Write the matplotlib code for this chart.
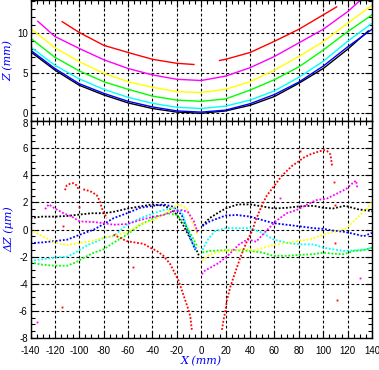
import numpy as np
import matplotlib.pyplot as plt
import matplotlib.transforms as mtransforms
from matplotlib.ticker import MultipleLocator

plt.rcParams['axes.unicode_minus'] = False
plt.rcParams['font.family'] = ['Liberation Sans', 'DejaVu Sans']

nan = np.nan

# Top panel: Z profiles (mm)
top_x = [-140, -120, -100, -80, -60, -40, -20, 0, 20, 40, 60, 80, 100, 120, 137]
z_black = [7.7, 5.4, 3.5, 2.3, 1.3, 0.6, 0.15, 0.0, 0.3, 1.0, 2.1, 3.75, 5.6, 8.0, 10.3]
top_x2 = [-140, -120, -100, -80, -60, -40, -20, 0, 20, 40, 60, 80, 100, 120, 140]
z_blue = [7.9, 5.6, 3.7, 2.5, 1.5, 0.8, 0.3, 0.15, 0.4, 1.2, 2.35, 3.9, 5.9, 8.3, 10.5]
z_cyan = [8.3, 6.0, 4.3, 3.0, 2.0, 1.25, 0.75, 0.6, 0.9, 1.65, 2.8, 4.5, 6.5, 9.0, 11.25]
z_green = [9.4, 7.0, 5.3, 3.95, 3.0, 2.15, 1.65, 1.5, 1.8, 2.9, 4.2, 5.8, 7.9, 10.2, 12.3]
z_yellow = [10.6, 8.2, 6.45, 5.0, 3.95, 3.25, 2.7, 2.6, 3.0, 3.95, 5.4, 7.1, 8.95, 11.25, 13.5]
mag_x = [-134, -120, -100, -80, -60, -40, -20, 0, 20, 40, 60, 80, 100, 120, 131]
z_magenta = [11.5, 9.6, 8.1, 6.7, 5.6, 4.8, 4.25, 4.1, 4.65, 5.7, 7.1, 8.8, 10.5, 12.7, 14.2]
red_x = [-114, -100, -80, -60, -40, -20, -6, nan, 15, 20, 40, 60, 80, 100, 111]
z_red = [11.45, 10.1, 8.5, 7.6, 6.75, 6.25, 6.1, nan, 6.6, 6.75, 7.6, 9.0, 10.5, 12.3, 13.3]

# Bottom panel: residuals dZ (um)
dk_x = [-140, -130, -120, -110, -100, -90, -80, -72, -60, -50, -40, -30, -25, -20, -15, -10, -5, -2,
        nan, 1, 7, 15, 20, 30, 40, 50, 60, 70, 80, 92, 100, 108, 118, 128, 136, 140]
dk_y = [0.85, 0.95, 0.95, 1.0, 1.1, 1.2, 1.2, 1.3, 1.55, 1.7, 1.85, 1.75, 1.5, 1.1, 0.35, -0.5, -1.3, -1.9,
        nan, 0.3, 0.85, 1.3, 1.55, 1.85, 1.85, 1.7, 1.55, 1.6, 1.7, 1.75, 1.6, 1.55, 1.75, 1.5, 1.4, 1.35]

db_x = [-140, -130, -120, -110, -100, -88, -80, -72, -61, -50, -39, -31, -23, -16, -9, -5,
        nan, 1, 7, 20, 29, 40, 50, 59, 70, 81, 92, 100, 108, 118, 128, 133, 140]
db_y = [-1.0, -0.95, -0.85, -0.75, -0.4, 0.0, 0.4, 0.83, 1.2, 1.6, 1.75, 1.85, 1.68, 1.07, -0.6, -1.5,
        nan, 0.25, 0.6, 1.03, 1.07, 0.95, 0.7, 0.47, 0.35, 0.23, 0.1, 0.05, -0.08, -0.18, -0.38, -0.5, -0.25]

dc_x = [-140, -130, -120, -110, -103, -99, -92, -85, -80, -72, -61, -50, -39, -31, -23, -16, -8, -4,
        nan, 1, 5, 11, 20, 29, 40, 50, 59, 70, 81, 92, 100, 108, 117, 128, 136, 140]
dc_y = [-2.3, -2.2, -2.07, -2.0, -1.7, -1.46, -1.1, -0.86, -0.6, -0.5, 0.35, 0.83, 1.2, 1.43, 1.6, 1.3, -0.8, -1.6,
        nan, -1.5, -0.8, -0.13, 0.1, 0.1, 0.1, -0.25, -0.73, -0.98, -1.1, -1.1, -1.34, -1.46, -1.58, -1.53, -1.46, -1.34]

dg_x = [-140, -130, -120, -110, -103, -96, -88, -80, -72, -61, -50, -39, -28, -20, -13, -7, -3,
        nan, 1, 7, 18, 29, 40, 50, 59, 70, 81, 92, 100, 108, 117, 125, 133, 140]
dg_y = [-2.43, -2.6, -2.67, -2.67, -2.43, -2.07, -1.7, -1.46, -0.98, -0.38, 0.35, 0.83, 1.2, 1.07, 0.35, -0.6, -1.3,
        nan, -1.7, -1.58, -1.53, -1.53, -1.58, -1.7, -1.94, -1.94, -1.87, -1.82, -1.7, -1.78, -1.82, -1.58, -1.53, -1.34]

dy_x = [-140, -130, -120, -110, -100, -90, -80, -70, -59, -51, -39, -28, -22, -18, -12, -7, -3,
        nan, 1, 7, 12, 23, 37, 45, 53, 61, 70, 78, 89, 100, 111, 119, 125, 130, 136, 140]
dy_y = [0.0, -0.5, -0.95, -1.15, -1.0, -0.85, -0.6, -0.45, -0.13, 0.35, 0.7, 1.3, 1.68, 1.85, 1.55, 0.5, -0.4,
        nan, -2.3, -1.82, -1.7, -1.53, -1.46, -1.53, -1.29, -1.1, -0.98, -0.86, -0.73, -0.38, -0.13, 0.1, 0.6, 1.07, 1.55, 2.04]

dm_x = [-128, -125, -120, -113, -106, -100, -88, -80, -72, -61, -50, -39, -31, -23, -16, -11, -6, -3,
        nan, 0.5, 3, 8, 15, 23, 31, 38, 45, 53, 61, 70, 78, 86, 94, 103, 111, 119, 125, 127, 128]
dm_y = [1.5, 1.85, 1.55, 1.2, 0.95, 0.6, 0.55, 0.47, 0.35, 0.4, 0.7, 0.95, 1.07, 1.36, 1.43, 1.3, 0.6, -0.2,
        nan, -3.3, -3.03, -2.79, -2.43, -1.82, -1.1, -0.73, -0.9, -0.13, 0.6, 1.2, 1.43, 1.8, 2.16, 2.28, 2.64, 3.0, 3.49, 3.6, 3.0]

dr_x = [-111.7, -110.3, -107.6, -104.9, -102.1, -100.8,
        nan, -96.7, -94, -89.8, -85.6, -82.9, -81.5, -80.2, -77.4,
        nan, -72, -63.8, -61, -52.8, -47.4, -41.9, -36.4, -31, -25.5, -21.4, -18.7, -15.9, -13.2, -10.4, -9, -7.7,
        nan, 17, 18.3, 19.7, 21.1, 23.8, 26.5, 29.3, 32, 34.7, 37.5, 41.6, 44.3, 47, 49.8, 53.9, 58, 62.1,
        66.2, 70.3, 74.5, 78.6, 84, 89.5, 95, 100.4, 103.2, 105.9, 107.3]
dr_y = [2.9, 3.25, 3.37, 3.42, 3.25, 3.0,
        nan, 2.96, 2.9, 2.77, 2.52, 2.04, 1.56, 1.32, 0.83,
        nan, -0.38, -0.74, -0.86, -0.98, -1.05, -1.34, -1.58, -1.94, -2.55, -3.27, -3.75, -4.48, -5.2, -5.93, -6.41, -7.4,
        nan, -7.4, -6.65, -6.05, -5.2, -4.24, -3.51, -2.79, -2.07, -1.46, -0.86, -0.13, 0.6, 1.2, 1.8, 2.52, 3.0, 3.49,
        3.97, 4.33, 4.7, 4.94, 5.3, 5.54, 5.71, 5.86, 5.78, 5.54, 4.7]

# stray points
red_pts_x = [-114.4, -113.1, -100.0, -55.6, 108.6, 110.0, 111.4, 110.0, 81.3]
red_pts_y = [-5.74, 0.23, 1.68, -2.79, 3.49, 1.8, -5.2, -0.98, 5.78]
mag_pts_x = [-134.5, 64.8, 130.0]
mag_pts_y = [-6.85, 2.3, -3.6]

fig = plt.figure(figsize=(3.79, 3.70), dpi=100)
W, H = 379, 370
left, right = 30.5, 372
ax1 = fig.add_axes([left / W, 1 - 121 / H, (right - left) / W, 121 / H])
ax2 = fig.add_axes([left / W, 1 - 338 / H, (right - left) / W, (338 - 121) / H])

ax1.plot(top_x, z_black, color='black', lw=1)
ax1.plot(top_x2, z_blue, color='blue', lw=1)
ax1.plot(top_x2, z_cyan, color='cyan', lw=1)
ax1.plot(top_x2, z_green, color='lime', lw=1)
ax1.plot(top_x2, z_yellow, color='yellow', lw=1)
ax1.plot(mag_x, z_magenta, color='magenta', lw=1)
ax1.plot(red_x, z_red, color='red', lw=1)

dot = dict(lw=1.3, ls=(0, (1, 1)))
ax2.plot(dk_x, dk_y, color='black', **dot)
ax2.plot(db_x, db_y, color='blue', **dot)
ax2.plot(dc_x, dc_y, color='cyan', **dot)
ax2.plot(dg_x, dg_y, color='lime', **dot)
ax2.plot(dy_x, dy_y, color='yellow', **dot)
ax2.plot(dm_x, dm_y, color='magenta', **dot)
ax2.plot(dr_x, dr_y, color='red', **dot)
ax2.plot(red_pts_x, red_pts_y, 's', color='red', ms=1.3, mew=0)
ax2.plot(mag_pts_x, mag_pts_y, 's', color='magenta', ms=1.3, mew=0)

ax1.set_ylim(-0.96, 14.16)
ax2.set_ylim(-8, 8)
for ax in (ax1, ax2):
    ax.set_xlim(-140, 140)
    ax.xaxis.set_major_locator(MultipleLocator(20))
    ax.xaxis.set_minor_locator(MultipleLocator(5))
    ax.grid(True, which='major', color='black', ls=(0, (2.5, 2)), lw=0.8)
    ax.tick_params(which='both', direction='in', top=True, right=True,
                   labelsize=7, width=0.8, pad=2)
    ax.tick_params(which='major', length=5)
    ax.tick_params(which='minor', length=3)
    for s in ax.spines.values():
        s.set_linewidth(1)

ax1.yaxis.set_major_locator(MultipleLocator(5))
ax1.yaxis.set_minor_locator(MultipleLocator(1))
ax1.set_yticks([0, 5, 10])
ax1.tick_params(labelbottom=False)

ax2.yaxis.set_major_locator(MultipleLocator(2))
ax2.yaxis.set_minor_locator(MultipleLocator(0.5))
ax2.tick_params(axis='x', pad=6)

# nudge the top "8" label of the lower panel down a little, as in the original
fig.canvas.draw()
shift = mtransforms.ScaledTranslation(0, -2 / 100, fig.dpi_scale_trans)
for t in ax2.get_yticklabels():
    if t.get_text() == '8':
        t.set_transform(t.get_transform() + shift)

lab = dict(color='blue', fontsize=8, family='DejaVu Serif', style='italic')
ax1.set_ylabel('Z (mm)', **lab)
ax2.set_ylabel('ΔZ (µm)', **lab)
ax2.set_xlabel('X (mm)', labelpad=0, **lab)
lx = (14 - left) / (right - left)
ax1.yaxis.set_label_coords(lx, 0.5)
ax2.yaxis.set_label_coords(lx, 0.5)

fig.savefig('out.png', dpi=100, facecolor='white')
